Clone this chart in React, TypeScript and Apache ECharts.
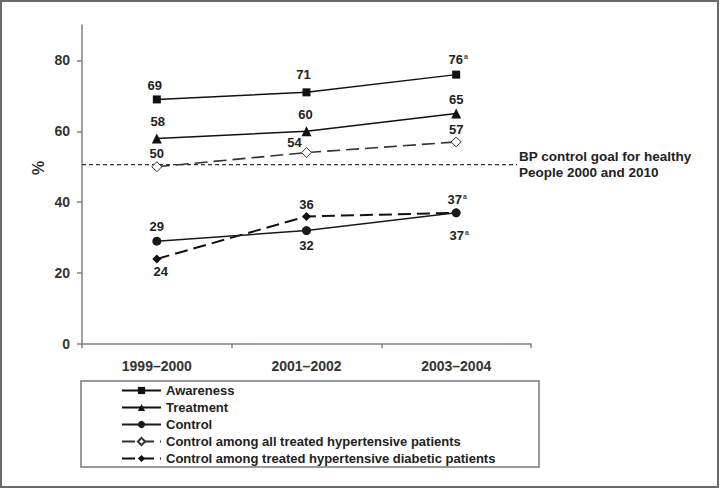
import React, { useEffect, useRef } from "react";
import * as echarts from "echarts";

const periods = ["1999–2000", "2001–2002", "2003–2004"];
const yTicks = [0, 20, 40, 60, 80];

const awareness = [69, 71, 76];
const treatment = [58, 60, 65];
const control = [29, 32, 37];
const controlTreated = [50, 54, 57];
const controlDiabetic = [24, 36, 37];

const awarenessNotes = ["", "", "a"];
const treatmentNotes = ["", "", ""];
const controlNotes = ["", "", "a"];
const controlTreatedNotes = ["", "", ""];
const controlDiabeticNotes = ["", "", "a"];

const goalValue = 50.6;
const goalText = "BP control goal for healthy\nPeople 2000 and 2010";

// label offsets (px) relative to each point
const awarenessLabelPos = [[-2, -14], [-3, -18], [2, -15]];
const treatmentLabelPos = [[1, -17], [-1, -17], [0, -14]];
const controlLabelPos = [[0, -15], [0, 15], [3, 23]];
const controlTreatedLabelPos = [[0, -13], [-12, -10], [0, -12]];
const controlDiabeticLabelPos = [[4, 13], [0, -12], [1, -13]];

const FONT = "'Liberation Sans', Arial, sans-serif";

export default function App() {
  const ref = useRef<HTMLDivElement>(null);

  useEffect(() => {
    document.body.style.margin = "0";
    if (!ref.current) return;
    const chart = echarts.init(ref.current, undefined, { renderer: "svg" });

    const labelBase = {
      show: true,
      position: "inside",
      color: "#222",
      fontSize: 13,
      fontWeight: "bold",
      fontFamily: FONT,
      rich: {
        sup: {
          fontSize: 7,
          fontWeight: "bold",
          color: "#444",
          fontFamily: FONT,
          padding: [0, 0, 7, 1],
        },
      },
    };

    const mk = (
      name: string,
      values: number[],
      notes: string[],
      offsets: number[][],
      symbol: string,
      symbolSize: number,
      lineStyle: any,
      itemStyle: any,
      z = 2
    ) => ({
      name,
      type: "line",
      z,
      symbol,
      symbolSize,
      lineStyle,
      itemStyle,
      data: values.map((v, i) => ({
        value: v,
        label: {
          ...labelBase,
          offset: offsets[i],
          formatter: notes[i] ? `${v}{sup|${notes[i]}}` : `${v}`,
        },
      })),
      emphasis: { disabled: true },
    });

    const series: any[] = [
      mk("Awareness", awareness, awarenessNotes, awarenessLabelPos, "rect", 8,
        { color: "#111", width: 1.5, type: "solid" }, { color: "#111" }),
      mk("Treatment", treatment, treatmentNotes, treatmentLabelPos, "triangle", 10,
        { color: "#111", width: 1.5, type: "solid" }, { color: "#111" }),
      mk("Control", control, controlNotes, controlLabelPos, "circle", 9,
        { color: "#1a1a1a", width: 1.5, type: "solid" }, { color: "#1a1a1a" }, 4),
      mk("Control among all treated hypertensive patients", controlTreated, controlTreatedNotes,
        controlTreatedLabelPos, "diamond", 10,
        { color: "#333", width: 1.6, type: [13, 6] },
        { color: "#fff", borderColor: "#333", borderWidth: 1 }),
      mk("Control among treated hypertensive diabetic patients", controlDiabetic, controlDiabeticNotes,
        controlDiabeticLabelPos, "diamond", 9,
        { color: "#111", width: 2, type: [13, 6] }, { color: "#111" }, 3),
      {
        name: "goal",
        type: "line",
        xAxisIndex: 1,
        symbol: "none",
        silent: true,
        z: 1,
        lineStyle: { color: "#333", width: 1.3, type: [4, 3] },
        data: [[0, goalValue], [0.969, goalValue]],
      },
    ];

    chart.setOption({
      animation: false,
      backgroundColor: "#fff",
      grid: { left: 82, top: 25, right: 189, bottom: 145, containLabel: false },
      xAxis: [
        {
          type: "category",
          data: periods,
          boundaryGap: true,
          axisLine: { lineStyle: { color: "#808080", width: 1.5 } },
          axisTick: { show: true, length: 4, lineStyle: { color: "#808080", width: 1.5 } },
          axisLabel: {
            color: "#333",
            fontSize: 14,
            fontWeight: "bold",
            fontFamily: FONT,
            margin: 15,
          },
          splitLine: { show: false },
        },
        { type: "value", min: 0, max: 1, show: false },
      ],
      yAxis: {
        type: "value",
        min: 0,
        max: 90,
        interval: 10,
        axisLine: { show: true, lineStyle: { color: "#808080", width: 1.5 } },
        axisTick: {
          show: true,
          length: 5,
          customValues: yTicks,
          lineStyle: { color: "#808080", width: 1.5 },
        },
        axisLabel: {
          customValues: yTicks,
          color: "#333",
          fontSize: 14,
          fontWeight: "bold",
          fontFamily: FONT,
          margin: 12,
        },
        splitLine: { show: false },
      },
      legend: {
        orient: "vertical",
        left: 116,
        top: 378,
        itemWidth: 39,
        itemHeight: 9,
        itemGap: 2,
        selectedMode: false,
        data: [
          "Awareness",
          "Treatment",
          "Control",
          "Control among all treated hypertensive patients",
          "Control among treated hypertensive diabetic patients",
        ],
        textStyle: {
          color: "#222",
          fontSize: 13,
          fontWeight: "bold",
          fontFamily: FONT,
          lineHeight: 15,
        },
      },
      graphic: [
        {
          type: "rect",
          shape: { x: 1, y: 1, width: 717, height: 486 },
          style: { fill: "none", stroke: "#6a6a6a", lineWidth: 2 },
          silent: true,
        },
        {
          type: "rect",
          shape: { x: 81, y: 381, width: 458, height: 86 },
          style: { fill: "none", stroke: "#7a7a7a", lineWidth: 1.5 },
          silent: true,
        },
        {
          type: "text",
          x: 38,
          y: 168,
          rotation: Math.PI / 2,
          style: {
            text: "%",
            fill: "#333",
            font: `bold 16px ${FONT}`,
            align: "center",
            verticalAlign: "middle",
          },
          silent: true,
        },
        {
          type: "text",
          x: 519,
          y: 148,
          style: {
            text: goalText,
            fill: "#222",
            font: `bold 13.5px ${FONT}`,
            lineHeight: 16.3,
            align: "left",
            verticalAlign: "top",
          },
          silent: true,
        },
      ],
      series,
    });

    return () => chart.dispose();
  }, []);

  return <div ref={ref} style={{ width: 720, height: 489 }} />;
}
